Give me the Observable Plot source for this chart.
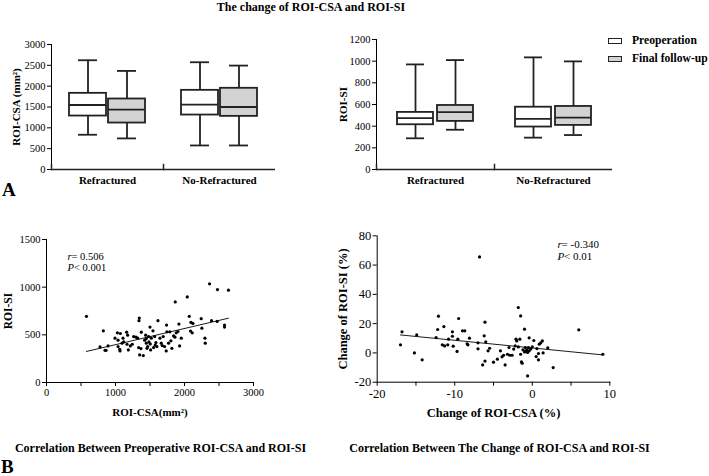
<!DOCTYPE html>
<html><head><meta charset="utf-8">
<script src="https://cdn.jsdelivr.net/npm/d3@7"></script>
<script src="https://cdn.jsdelivr.net/npm/@observablehq/plot@0.6"></script>
<style>
body{margin:0;background:#fff;}
#fig{position:relative;width:709px;height:476px;font-family:"Liberation Serif","Times New Roman",serif;color:#000;overflow:hidden;background:#fff;}
.abs{position:absolute;white-space:nowrap;line-height:1;}
.c{transform:translate(-50%,-50%);}
.l{transform:translate(0,-50%);}
.panel{position:absolute;}
.panel svg{overflow:visible;}
.panel [aria-label="y-axis label"], .panel [aria-label="x-axis label"], .panel [aria-label="fx-axis tick label"]{font-weight:bold;}
.pa [aria-label="y-axis label"]{font-size:11px;}
.pa [aria-label="fx-axis tick label"]{font-size:11px;}
.pb1 [aria-label="y-axis label"]{font-size:11.5px;}
.pb1 [aria-label="x-axis label"]{font-size:11px;}
.pb2 [aria-label="y-axis label"], .pb2 [aria-label="x-axis label"]{font-size:12.5px;}
.sw{position:absolute;width:12px;height:4px;border:1.5px solid #222;}
</style></head><body>
<div id="fig">
  <div class="abs c" style="left:311px;top:7px;font-weight:bold;font-size:12px;">The change of ROI-CSA and ROI-SI</div>
  <div class="abs" style="left:2px;top:180px;font-weight:bold;font-size:19px;">A</div>
  <div class="abs" style="left:1px;top:457px;font-weight:bold;font-size:19px;">B</div>
  <div class="sw" style="left:608px;top:37.5px;background:#fff;"></div>
  <div class="sw" style="left:608px;top:55.5px;background:#d3d3d3;"></div>
  <div class="abs l" style="left:632px;top:40.5px;font-weight:bold;font-size:11.6px;">Preoperation</div>
  <div class="abs l" style="left:632px;top:58.5px;font-weight:bold;font-size:11.6px;">Final follow-up</div>
  <div class="abs c" style="left:160.5px;top:448px;font-weight:bold;font-size:12px;">Correlation Between Preoperative ROI-CSA and ROI-SI</div>
  <div class="abs c" style="left:499.5px;top:448px;font-weight:bold;font-size:12px;">Correlation Between The Change of ROI-CSA and ROI-SI</div>
  <div id="a1" class="panel pa" style="left:0px;top:0px;"></div>
  <div id="a2" class="panel pa" style="left:320px;top:0px;"></div>
  <div id="b1" class="panel pb1" style="left:0px;top:225px;"></div>
  <div id="b2" class="panel pb2" style="left:330px;top:225px;"></div>
</div>
<script>
// ---------- data ----------
const groups = ["Refractured", "No-Refractured"];
const phases = ["Preoperation", "Final follow-up"];
// order: Refractured-Pre, Refractured-Final, NoRefractured-Pre, NoRefractured-Final
const boxGroup = ["Refractured", "Refractured", "No-Refractured", "No-Refractured"];
const boxPhase = ["Preoperation", "Final follow-up", "Preoperation", "Final follow-up"];
// ROI-CSA box stats (min, Q1, median, Q3, max)
const csaMin = [834, 746, 577, 577];
const csaQ1  = [1283, 1115, 1307, 1275];
const csaMed = [1548, 1435, 1556, 1500];
const csaQ3  = [1828, 1692, 1900, 1949];
const csaMax = [2622, 2366, 2574, 2494];
// ROI-SI box stats
const siMin = [288, 367, 294, 318];
const siQ1  = [413, 444, 392, 407];
const siMed = [474, 530, 468, 478];
const siQ3  = [527, 591, 575, 582];
const siMax = [970, 1010, 1035, 998];
const csaTicks = [0, 500, 1000, 1500, 2000, 2500, 3000];
const siTicks = [0, 200, 400, 600, 800, 1000, 1200];

// Preoperative ROI-CSA vs ROI-SI
const preCsa = [579,824,776,849,863,892,993,1027,1070,1037,1037,1061,1066,1094,1119,1162,1176,1167,1186,1215,1244,1297,1340,1345,1374,1335,1369,1350,1403,1422,1446,1446,1466,1485,1500,1519,1504,1543,1567,1552,1586,1615,1644,1663,1677,1711,1740,1745,1735,1788,1769,1803,1817,1866,1842,1861,1880,1905,1919,1929,1953,2040,2069,2093,2088,2112,2122,2242,2252,2296,2301,2363,2392,2478,2473,2580,2580,2637,1437,1480,1456,1509,1576,1321,1263,1109,1600,1692];
const preSi  = [694,542,373,338,338,384,465,521,514,444,377,349,331,412,426,528,496,401,342,384,401,475,648,676,528,366,356,289,282,444,461,412,377,426,581,465,405,542,482,366,419,648,465,412,387,377,602,532,331,532,412,437,359,845,489,475,521,535,613,384,465,898,694,630,539,521,620,669,570,465,412,1035,648,975,641,602,581,968,496,482,359,342,391,465,482,465,377,482];
const b1XTicks = [0, 500, 1000, 1500, 2000, 2500, 3000];
const b1XLabels = [0, 1000, 2000, 3000];
const b1YTicks = [0, 500, 1000, 1500];

// Change of ROI-CSA (%) vs change of ROI-SI (%)
const chCsa = [-17.0,-16.8,-15.2,-14.9,-14.2,-12.4,-12.2,-12.1,-11.6,-11.4,-11.3,-10.9,-10.8,-10.3,-10.3,-10.2,-9.7,-9.5,-9.6,-9.0,-8.7,-8.4,-8.1,-8.3,-7.0,-7.0,-6.8,-6.4,-6.1,-6.2,-6.1,-6.0,-5.7,-5.5,-5.0,-4.5,-4.1,-3.9,-3.5,-3.7,-3.2,-3.0,-2.9,-2.6,-2.4,-2.1,-2.0,-1.8,-1.8,-1.5,-1.4,-1.3,-1.0,-1.0,-1.5,-0.9,-0.7,-0.6,-0.4,-0.4,-0.2,0.0,0.2,0.5,0.6,0.8,0.8,0.9,1.1,1.3,1.4,2.0,2.7,6.0,9.1,-0.8,-0.6,-1.2,-0.5,-2.2,-1.6];
const chSi  = [5.5,14.4,0.0,12.3,-4.7,10.5,16.0,25.1,5.5,18.0,4.8,5.5,9.4,14.4,11.4,4.6,1.0,23.5,9.4,15.1,15.1,6.2,10.1,5.5,6.9,2.8,65.6,-8.2,21.0,11.7,-5.6,7.6,1.4,3.2,-6.3,-4.3,1.4,-2.7,-8.2,-1.6,-0.9,3.7,-1.6,-1.6,2.6,9.4,8.2,4.1,31.0,25.3,-6.1,-7.0,16.2,0.7,-0.9,3.7,2.1,-15.7,10.3,1.4,2.6,4.1,8.5,-2.5,3.0,-0.4,-4.7,6.0,6.9,8.2,0.0,3.5,-10.0,15.8,-0.9,1.4,0.3,2.1,3.7,4.8,9.4];
const b2XTicks = [-20, -15, -10, -5, 0, 5, 10];
const b2XLabels = [-20, -10, 0, 10];
const b2YTicks = [-20, 0, 20, 40, 60, 80];

const statSymbols = ["r", "P"];
const b1StatText = ["= 0.506", "< 0.001"];
const b2StatText = ["= -0.340", "< 0.01"];

// ---------- tables ----------
const ink = "#222";
const boxFills = ["#ffffff", "#d3d3d3"];
function boxRows(mn, q1, md, q3, mx) {
  return boxGroup.map((g, i) => ({group: g, phase: boxPhase[i], min: mn[i], q1: q1[i], med: md[i], q3: q3[i], max: mx[i]}));
}
const csaRows = boxRows(csaMin, csaQ1, csaMed, csaQ3, csaMax);
const siRows = boxRows(siMin, siQ1, siMed, siQ3, siMax);
const preRows = preCsa.map((x, i) => ({x, y: preSi[i]}));
const chRows = chCsa.map((x, i) => ({x, y: chSi[i]}));

const baseStyle = {fontFamily: "Liberation Serif, Times New Roman, serif", color: "#000", background: "none"};

function boxPlot({rows, width, height, ml, mr, mt, mb, yDomain, yTicks, yLabel, labelOffset, pInner, pOuter}) {
  const plotH = height - mt - mb;
  return Plot.plot({
    width, height, marginLeft: ml, marginRight: mr, marginTop: mt, marginBottom: mb,
    style: {...baseStyle, fontSize: "10.5px"},
    x: {domain: phases, paddingInner: pInner, paddingOuter: pOuter, axis: null},
    fx: {domain: groups, padding: 0, axis: "bottom", label: null, tickSize: 0, tickPadding: 7},
    y: {domain: yDomain, ticks: yTicks, tickFormat: d => String(d), tickSize: 4, tickPadding: 2, line: true,
        label: yLabel, labelAnchor: "center", labelOffset, labelArrow: "none"},
    color: {domain: phases, range: boxFills},
    marks: [
      Plot.ruleY([yDomain[0]], {stroke: ink, strokeWidth: 1.5}),
      Plot.frame({anchor: "left", insetTop: plotH - 5, stroke: ink, strokeWidth: 1.5}),
      Plot.ruleX(rows, {fx: "group", x: "phase", y1: "min", y2: "max", stroke: ink, strokeWidth: 1.8}),
      Plot.tickY(rows, {fx: "group", x: "phase", y: "min", insetLeft: 9, insetRight: 9, stroke: ink, strokeWidth: 1.8}),
      Plot.tickY(rows, {fx: "group", x: "phase", y: "max", insetLeft: 9, insetRight: 9, stroke: ink, strokeWidth: 1.8}),
      Plot.barY(rows, {fx: "group", x: "phase", y1: "q1", y2: "q3", fill: "phase", stroke: ink, strokeWidth: 1.8}),
      Plot.tickY(rows, {fx: "group", x: "phase", y: "med", stroke: ink, strokeWidth: 1.8})
    ]
  });
}

document.getElementById("a1").append(boxPlot({
  rows: csaRows, width: 290, height: 200, ml: 51, mr: 15, mt: 44, mb: 31,
  yDomain: [0, 3000], yTicks: csaTicks, yLabel: "ROI-CSA (mm²)", labelOffset: 39, pInner: 0.05, pOuter: 0.46
}));
document.getElementById("a2").append(boxPlot({
  rows: siRows, width: 300, height: 200, ml: 55, mr: 8, mt: 39, mb: 31,
  yDomain: [0, 1200], yTicks: siTicks, yLabel: "ROI-SI", labelOffset: 37, pInner: 0.1, pOuter: 0.49
}));

function statMarks(xv, y1, y2, texts, dxr, dxp) {
  return [
    Plot.text(statSymbols, {x: xv, y: [y1, y2], text: d => d, fontStyle: "italic", textAnchor: "start"}),
    Plot.text([texts[0]], {x: xv, y: y1, text: d => d, textAnchor: "start", dx: dxr}),
    Plot.text([texts[1]], {x: xv, y: y2, text: d => d, textAnchor: "start", dx: dxp})
  ];
}

document.getElementById("b1").append(Plot.plot({
  width: 270, height: 200, marginLeft: 46, marginRight: 17, marginTop: 14, marginBottom: 43,
  style: {...baseStyle, fontSize: "10.5px"},
  x: {domain: [0, 3000], ticks: b1XTicks, tickFormat: d => b1XLabels.includes(d) ? String(d) : "", tickSize: 4, tickPadding: 2, line: true,
      label: "ROI-CSA(mm²)", labelAnchor: "center", labelOffset: 33, labelArrow: "none"},
  y: {domain: [0, 1500], ticks: b1YTicks, tickFormat: d => String(d), tickSize: 4, tickPadding: 2, line: true,
      label: "ROI-SI", labelAnchor: "center", labelOffset: 43, labelArrow: "none"},
  marks: [
    Plot.dot(preRows, {x: "x", y: "y", r: 1.6, fill: "#000", stroke: "none"}),
    Plot.linearRegressionY(preRows, {x: "x", y: "y", ci: 0, stroke: "#000", strokeWidth: 0.9}),
    ...statMarks(304, 1325, 1210, b1StatText, 4, 6.5)
  ]
}));

document.getElementById("b2").append(Plot.plot({
  width: 300, height: 200, marginLeft: 46.7, marginRight: 20.7, marginTop: 10.3, marginBottom: 43.3,
  style: {...baseStyle, fontSize: "12.5px"},
  x: {domain: [-20, 10], ticks: b2XTicks, tickFormat: d => b2XLabels.includes(d) ? String(d) : "", tickSize: 4, tickPadding: 3, line: true,
      label: "Change of ROI-CSA (%)", labelAnchor: "center", labelOffset: 35, labelArrow: "none"},
  y: {domain: [-20, 80], ticks: b2YTicks, tickFormat: d => String(d), tickSize: 4, tickPadding: 2, line: true,
      label: "Change of ROI-SI (%)", labelAnchor: "center", labelOffset: 39, labelArrow: "none"},
  marks: [
    Plot.dot(chRows, {x: "x", y: "y", r: 1.6, fill: "#000", stroke: "none"}),
    Plot.linearRegressionY(chRows, {x: "x", y: "y", ci: 0, stroke: "#000", strokeWidth: 0.9}),
    Plot.text(statSymbols, {x: 3.26, y: [73.9, 65.7], text: d => d, fontStyle: "italic", textAnchor: "start", fontSize: 11}),
    Plot.text([b2StatText[0]], {x: 3.26, y: 73.9, text: d => d, textAnchor: "start", dx: 4, fontSize: 11}),
    Plot.text([b2StatText[1]], {x: 3.26, y: 65.7, text: d => d, textAnchor: "start", dx: 6.5, fontSize: 11})
  ]
}));
</script>
</body></html>
